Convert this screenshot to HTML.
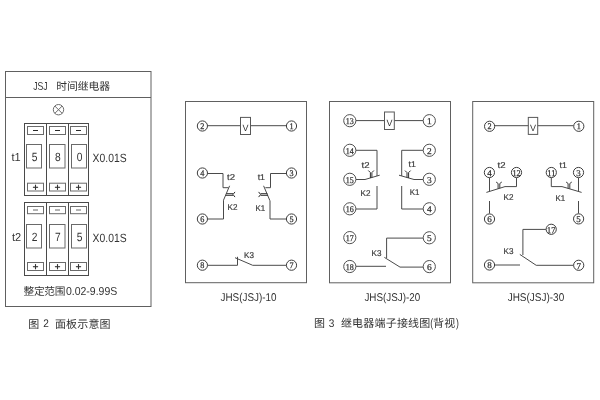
<!DOCTYPE html>
<html lang="zh"><head><meta charset="utf-8"><title>JSJ 时间继电器</title>
<style>
html,body{margin:0;padding:0;background:#fff;width:600px;height:400px;overflow:hidden}
svg{position:absolute;left:0;top:0;display:block;will-change:transform;filter:grayscale(1)}
svg text{font-family:"Liberation Sans",sans-serif;text-rendering:geometricPrecision}
svg text.s{font-family:"Liberation Serif",serif}
svg text.c{font-family:"Liberation Sans","Noto Sans CJK SC",sans-serif}
.h span{position:absolute;color:transparent;font-family:"Liberation Sans","Noto Sans CJK SC",sans-serif;white-space:nowrap;line-height:1}
</style></head><body>
<svg width="600" height="400" viewBox="0 0 600 400">
<rect x="5.5" y="71.5" width="145.50" height="235.00" fill="none" stroke="#606060" stroke-width="1"/>
<path d="M5.5 97.5 L151 97.5" fill="none" stroke="#606060" stroke-width="1"/>
<text x="33.2" y="90.0" font-size="11.5" fill="#333" text-anchor="start" textLength="14.4" lengthAdjust="spacingAndGlyphs">JSJ</text>
<text class="c" x="56.13" y="90.3" font-size="10.8" fill="#333" text-anchor="start">时间继电器</text>
<circle cx="58.5" cy="109.7" r="5.2" fill="#fff" stroke="#6a6a6a" stroke-width="1"/>
<path d="M54.82308 106.02308000000001 L62.17692 113.37692" fill="none" stroke="#6a6a6a" stroke-width="1"/>
<path d="M54.82308 113.37692 L62.17692 106.02308000000001" fill="none" stroke="#6a6a6a" stroke-width="1"/>
<rect x="24.5" y="123.5" width="64.00" height="72.00" fill="none" stroke="#4a4a4a" stroke-width="1"/>
<path d="M46.5 123.5 L46.5 195.5" fill="none" stroke="#4a4a4a" stroke-width="1"/>
<path d="M68.5 123.5 L68.5 195.5" fill="none" stroke="#4a4a4a" stroke-width="1"/>
<rect x="27.5" y="126.5" width="16.00" height="8.00" fill="none" stroke="#6a6a6a" stroke-width="1"/>
<path d="M33.0 130.5 L38.0 130.5" fill="none" stroke="#2a2a2a" stroke-width="1.0"/>
<rect x="27.5" y="183.2" width="16.00" height="7.80" fill="none" stroke="#6a6a6a" stroke-width="1"/>
<path d="M32.9 187.29999999999998 L38.1 187.29999999999998" fill="none" stroke="#333" stroke-width="1.1"/>
<path d="M35.5 184.7 L35.5 189.89999999999998" fill="none" stroke="#333" stroke-width="1.1"/>
<rect x="49.5" y="126.5" width="16.00" height="8.00" fill="none" stroke="#6a6a6a" stroke-width="1"/>
<path d="M55.0 130.5 L60.0 130.5" fill="none" stroke="#2a2a2a" stroke-width="1.0"/>
<rect x="49.5" y="183.2" width="16.00" height="7.80" fill="none" stroke="#6a6a6a" stroke-width="1"/>
<path d="M54.9 187.29999999999998 L60.1 187.29999999999998" fill="none" stroke="#333" stroke-width="1.1"/>
<path d="M57.5 184.7 L57.5 189.89999999999998" fill="none" stroke="#333" stroke-width="1.1"/>
<rect x="70.5" y="126.5" width="16.00" height="8.00" fill="none" stroke="#6a6a6a" stroke-width="1"/>
<path d="M76.0 130.5 L81.0 130.5" fill="none" stroke="#2a2a2a" stroke-width="1.0"/>
<rect x="70.5" y="183.2" width="16.00" height="7.80" fill="none" stroke="#6a6a6a" stroke-width="1"/>
<path d="M75.9 187.29999999999998 L81.1 187.29999999999998" fill="none" stroke="#333" stroke-width="1.1"/>
<path d="M78.5 184.7 L78.5 189.89999999999998" fill="none" stroke="#333" stroke-width="1.1"/>
<rect x="26.5" y="144.5" width="15.00" height="23.50" fill="none" stroke="#6a6a6a" stroke-width="1"/>
<text x="34.7" y="160.8" font-size="12" fill="#333" text-anchor="middle" textLength="5.7" lengthAdjust="spacingAndGlyphs">5</text>
<rect x="49.5" y="144.5" width="15.50" height="23.50" fill="none" stroke="#6a6a6a" stroke-width="1"/>
<text x="57.95" y="160.8" font-size="12" fill="#333" text-anchor="middle" textLength="5.7" lengthAdjust="spacingAndGlyphs">8</text>
<rect x="71.5" y="144.5" width="15.00" height="23.50" fill="none" stroke="#6a6a6a" stroke-width="1"/>
<text x="79.7" y="160.8" font-size="12" fill="#333" text-anchor="middle" textLength="5.7" lengthAdjust="spacingAndGlyphs">0</text>
<text x="11.5" y="160.7" font-size="11.5" fill="#333" text-anchor="start" textLength="9.2" lengthAdjust="spacingAndGlyphs">t1</text>
<text x="92.6" y="161.8" font-size="12" fill="#333" text-anchor="start" textLength="34" lengthAdjust="spacingAndGlyphs">X0.01S</text>
<rect x="24.5" y="202.5" width="64.00" height="73.00" fill="none" stroke="#4a4a4a" stroke-width="1"/>
<path d="M46.5 202.5 L46.5 275.5" fill="none" stroke="#4a4a4a" stroke-width="1"/>
<path d="M68.5 202.5 L68.5 275.5" fill="none" stroke="#4a4a4a" stroke-width="1"/>
<rect x="27.5" y="206.5" width="16.00" height="7.20" fill="none" stroke="#6a6a6a" stroke-width="1"/>
<path d="M33.0 210.0 L38.0 210.0" fill="none" stroke="#666" stroke-width="1.0"/>
<rect x="27.5" y="262.5" width="16.00" height="8.00" fill="none" stroke="#6a6a6a" stroke-width="1"/>
<path d="M32.9 266.7 L38.1 266.7" fill="none" stroke="#333" stroke-width="1.1"/>
<path d="M35.5 264.09999999999997 L35.5 269.3" fill="none" stroke="#333" stroke-width="1.1"/>
<rect x="49.5" y="206.5" width="16.00" height="7.20" fill="none" stroke="#6a6a6a" stroke-width="1"/>
<path d="M55.0 210.0 L60.0 210.0" fill="none" stroke="#666" stroke-width="1.0"/>
<rect x="49.5" y="262.5" width="16.00" height="8.00" fill="none" stroke="#6a6a6a" stroke-width="1"/>
<path d="M54.9 266.7 L60.1 266.7" fill="none" stroke="#333" stroke-width="1.1"/>
<path d="M57.5 264.09999999999997 L57.5 269.3" fill="none" stroke="#333" stroke-width="1.1"/>
<rect x="70.5" y="206.5" width="16.00" height="7.20" fill="none" stroke="#6a6a6a" stroke-width="1"/>
<path d="M76.0 210.0 L81.0 210.0" fill="none" stroke="#666" stroke-width="1.0"/>
<rect x="70.5" y="262.5" width="16.00" height="8.00" fill="none" stroke="#6a6a6a" stroke-width="1"/>
<path d="M75.9 266.7 L81.1 266.7" fill="none" stroke="#333" stroke-width="1.1"/>
<path d="M78.5 264.09999999999997 L78.5 269.3" fill="none" stroke="#333" stroke-width="1.1"/>
<rect x="26.5" y="224.5" width="15.00" height="23.50" fill="none" stroke="#6a6a6a" stroke-width="1"/>
<text x="34.7" y="240.8" font-size="12" fill="#333" text-anchor="middle" textLength="5.7" lengthAdjust="spacingAndGlyphs">2</text>
<rect x="49.5" y="224.5" width="15.50" height="23.50" fill="none" stroke="#6a6a6a" stroke-width="1"/>
<text x="57.95" y="240.8" font-size="12" fill="#333" text-anchor="middle" textLength="5.7" lengthAdjust="spacingAndGlyphs">7</text>
<rect x="71.5" y="224.5" width="15.00" height="23.50" fill="none" stroke="#6a6a6a" stroke-width="1"/>
<text x="79.7" y="240.8" font-size="12" fill="#333" text-anchor="middle" textLength="5.7" lengthAdjust="spacingAndGlyphs">5</text>
<text x="12" y="240.7" font-size="11.5" fill="#333" text-anchor="start" textLength="9.2" lengthAdjust="spacingAndGlyphs">t2</text>
<text x="92.6" y="241.8" font-size="12" fill="#333" text-anchor="start" textLength="34" lengthAdjust="spacingAndGlyphs">X0.01S</text>
<text class="c" x="23.43" y="295.2" font-size="10.7" fill="#333" text-anchor="start" textLength="42.05" lengthAdjust="spacing">整定范围</text>
<text x="65.9" y="295.2" font-size="11.5" fill="#333" text-anchor="start" textLength="51.4" lengthAdjust="spacingAndGlyphs">0.02-9.99S</text>
<text class="c" x="28.28" y="327.6" font-size="11" fill="#333" text-anchor="start">图</text>
<text x="43.2" y="327.4" font-size="11" fill="#333" text-anchor="start" textLength="5.6" lengthAdjust="spacingAndGlyphs">2</text>
<text class="c" x="54.96" y="327.6" font-size="11" fill="#333" text-anchor="start" textLength="55.6" lengthAdjust="spacing">面板示意图</text>
<rect x="185.5" y="101.5" width="121.00" height="181.20" fill="none" stroke="#606060" stroke-width="1"/>
<path d="M207.7 125.7 L240.5 125.7" fill="none" stroke="#4a4a4a" stroke-width="1"/>
<path d="M250.5 125.7 L286.2 125.7" fill="none" stroke="#4a4a4a" stroke-width="1"/>
<rect x="240.5" y="117.4" width="10.00" height="17.10" fill="none" stroke="#585858" stroke-width="1"/>
<text x="245.6" y="131" font-size="9" fill="#333" text-anchor="middle">V</text>
<circle cx="202.4" cy="126" r="5.1" fill="#fff" stroke="#3c3c3c" stroke-width="1.0"/>
<text x="200.35" y="129.05" font-size="8.6" fill="#333" text-anchor="start" textLength="4.1" lengthAdjust="spacingAndGlyphs" class="s" stroke="#333" stroke-width="0.25">2</text>
<circle cx="291.5" cy="126" r="5.1" fill="#fff" stroke="#3c3c3c" stroke-width="1.0"/>
<text x="289.45" y="129.05" font-size="8.6" fill="#333" text-anchor="start" textLength="4.1" lengthAdjust="spacingAndGlyphs" class="s" stroke="#333" stroke-width="0.25">1</text>
<path d="M207.5 173.5 L223.0 173.5 L223.0 187.7 L228.3 187.7" fill="none" stroke="#4a4a4a" stroke-width="1"/>
<path d="M229.6 185.8 L223.5 200.2 L223.5 219 L207.7 219" fill="none" stroke="#4a4a4a" stroke-width="1"/>
<path d="M226.3 193.7 L233 193.7" fill="none" stroke="#2e2e2e" stroke-width="1.0"/>
<path d="M225.7 195.3 L233 195.3" fill="none" stroke="#2e2e2e" stroke-width="1.0"/>
<path d="M235.0 191.9 L233 194.5 L235.0 197.1" fill="none" stroke="#2e2e2e" stroke-width="1.0"/>
<circle cx="202.4" cy="173" r="5.1" fill="#fff" stroke="#3c3c3c" stroke-width="1.0"/>
<text x="200.35" y="176.05" font-size="8.6" fill="#333" text-anchor="start" textLength="4.1" lengthAdjust="spacingAndGlyphs" class="s" stroke="#333" stroke-width="0.25">4</text>
<circle cx="202.4" cy="219" r="5.1" fill="#fff" stroke="#3c3c3c" stroke-width="1.0"/>
<text x="200.35" y="222.05" font-size="8.6" fill="#333" text-anchor="start" textLength="4.1" lengthAdjust="spacingAndGlyphs" class="s" stroke="#333" stroke-width="0.25">6</text>
<text x="227.0" y="180.1" font-size="8.4" fill="#3a3a3a" text-anchor="start" textLength="8.0" lengthAdjust="spacingAndGlyphs" stroke="#3a3a3a" stroke-width="0.2">t2</text>
<text x="227.5" y="209.7" font-size="8.4" fill="#3a3a3a" text-anchor="start" textLength="9.9" lengthAdjust="spacingAndGlyphs" stroke="#3a3a3a" stroke-width="0.2">K2</text>
<path d="M286.4 173.5 L270.5 173.5 L270.5 187.7 L265.4 187.7" fill="none" stroke="#4a4a4a" stroke-width="1"/>
<path d="M263.6 185.8 L269.8 200.4 L270.0 201 L270.0 219 L286.4 219" fill="none" stroke="#4a4a4a" stroke-width="1"/>
<path d="M260.6 193.7 L267.4 193.7" fill="none" stroke="#2e2e2e" stroke-width="1.0"/>
<path d="M260.6 195.3 L268 195.3" fill="none" stroke="#2e2e2e" stroke-width="1.0"/>
<path d="M258.6 191.9 L260.6 194.5 L258.6 197.1" fill="none" stroke="#2e2e2e" stroke-width="1.0"/>
<circle cx="291.5" cy="173" r="5.1" fill="#fff" stroke="#3c3c3c" stroke-width="1.0"/>
<text x="289.45" y="176.05" font-size="8.6" fill="#333" text-anchor="start" textLength="4.1" lengthAdjust="spacingAndGlyphs" class="s" stroke="#333" stroke-width="0.25">3</text>
<circle cx="291.5" cy="219" r="5.1" fill="#fff" stroke="#3c3c3c" stroke-width="1.0"/>
<text x="289.45" y="222.05" font-size="8.6" fill="#333" text-anchor="start" textLength="4.1" lengthAdjust="spacingAndGlyphs" class="s" stroke="#333" stroke-width="0.25">5</text>
<text x="257.7" y="179.5" font-size="8.4" fill="#3a3a3a" text-anchor="start" textLength="7.3" lengthAdjust="spacingAndGlyphs" stroke="#3a3a3a" stroke-width="0.2">t1</text>
<text x="255.5" y="210.5" font-size="8.4" fill="#3a3a3a" text-anchor="start" textLength="9.7" lengthAdjust="spacingAndGlyphs" stroke="#3a3a3a" stroke-width="0.2">K1</text>
<path d="M207.7 265.3 L237.5 265.3 L237.5 256.8" fill="none" stroke="#4a4a4a" stroke-width="1"/>
<path d="M235 257.7 L252.7 265.3 L286.2 265.3" fill="none" stroke="#4a4a4a" stroke-width="1"/>
<circle cx="202.4" cy="265.2" r="5.1" fill="#fff" stroke="#3c3c3c" stroke-width="1.0"/>
<text x="200.35" y="268.25" font-size="8.6" fill="#333" text-anchor="start" textLength="4.1" lengthAdjust="spacingAndGlyphs" class="s" stroke="#333" stroke-width="0.25">8</text>
<circle cx="291.5" cy="265.2" r="5.1" fill="#fff" stroke="#3c3c3c" stroke-width="1.0"/>
<text x="289.45" y="268.25" font-size="8.6" fill="#333" text-anchor="start" textLength="4.1" lengthAdjust="spacingAndGlyphs" class="s" stroke="#333" stroke-width="0.25">7</text>
<text x="244.0" y="258.0" font-size="8.4" fill="#3a3a3a" text-anchor="start" textLength="9.9" lengthAdjust="spacingAndGlyphs" stroke="#3a3a3a" stroke-width="0.2">K3</text>
<text x="220.5" y="300.7" font-size="11.3" fill="#333" text-anchor="start" textLength="56" lengthAdjust="spacingAndGlyphs">JHS(JSJ)-10</text>
<rect x="329.5" y="101.5" width="121.00" height="181.30" fill="none" stroke="#606060" stroke-width="1"/>
<path d="M356 120.6 L384.5 120.6" fill="none" stroke="#4a4a4a" stroke-width="1"/>
<path d="M394.3 120.6 L423 120.6" fill="none" stroke="#4a4a4a" stroke-width="1"/>
<rect x="384.5" y="112" width="9.80" height="17.50" fill="none" stroke="#585858" stroke-width="1"/>
<text x="389.5" y="125.8" font-size="9" fill="#333" text-anchor="middle">V</text>
<circle cx="349.8" cy="120.7" r="6.1" fill="#fff" stroke="#505050" stroke-width="1.0"/>
<text x="345.8" y="124.05" font-size="8.9" fill="#333" text-anchor="start" textLength="8.0" lengthAdjust="spacingAndGlyphs" class="s" stroke="#333" stroke-width="0.25">13</text>
<circle cx="429.3" cy="120.7" r="6.1" fill="#fff" stroke="#505050" stroke-width="1.0"/>
<text x="426.95" y="124.2" font-size="8.9" fill="#333" text-anchor="start" textLength="4.7" lengthAdjust="spacingAndGlyphs" class="s" stroke="#333" stroke-width="0.25">1</text>
<path d="M356 150.3 L377 150.3 L377 176" fill="none" stroke="#4a4a4a" stroke-width="1"/>
<path d="M356 179.5 L365 179.5 L379.7 175.2" fill="none" stroke="#4a4a4a" stroke-width="1"/>
<path d="M377 186 L377 209 L356 209" fill="none" stroke="#4a4a4a" stroke-width="1"/>
<path d="M368.3 170.5 L370.4 172.6 L370.4 178" fill="none" stroke="#2e2e2e" stroke-width="1.0"/>
<path d="M373.9 170.5 L371.9 172.6 L371.9 177.6" fill="none" stroke="#2e2e2e" stroke-width="1.0"/>
<circle cx="349.8" cy="150.3" r="6.1" fill="#fff" stroke="#505050" stroke-width="1.0"/>
<text x="345.8" y="153.65" font-size="8.9" fill="#333" text-anchor="start" textLength="8.0" lengthAdjust="spacingAndGlyphs" class="s" stroke="#333" stroke-width="0.25">14</text>
<circle cx="349.8" cy="179.3" r="6.1" fill="#fff" stroke="#505050" stroke-width="1.0"/>
<text x="345.8" y="182.65" font-size="8.9" fill="#333" text-anchor="start" textLength="8.0" lengthAdjust="spacingAndGlyphs" class="s" stroke="#333" stroke-width="0.25">15</text>
<circle cx="349.8" cy="208.8" r="6.1" fill="#fff" stroke="#505050" stroke-width="1.0"/>
<text x="345.8" y="212.15" font-size="8.9" fill="#333" text-anchor="start" textLength="8.0" lengthAdjust="spacingAndGlyphs" class="s" stroke="#333" stroke-width="0.25">16</text>
<text x="361.5" y="168.0" font-size="8.4" fill="#3a3a3a" text-anchor="start" textLength="8.0" lengthAdjust="spacingAndGlyphs" stroke="#3a3a3a" stroke-width="0.2">t2</text>
<text x="360.5" y="196.0" font-size="8.4" fill="#3a3a3a" text-anchor="start" textLength="9.9" lengthAdjust="spacingAndGlyphs" stroke="#3a3a3a" stroke-width="0.2">K2</text>
<path d="M423 150.3 L401.7 150.3 L401.7 176" fill="none" stroke="#4a4a4a" stroke-width="1"/>
<path d="M423 179.5 L414 179.5 L399 175.2" fill="none" stroke="#4a4a4a" stroke-width="1"/>
<path d="M401.7 186 L401.7 209 L423 209" fill="none" stroke="#4a4a4a" stroke-width="1"/>
<path d="M405 170.6 L407 172.6 L407 177.6" fill="none" stroke="#2e2e2e" stroke-width="1.0"/>
<path d="M410.6 170.6 L408.6 172.6 L408.6 178" fill="none" stroke="#2e2e2e" stroke-width="1.0"/>
<circle cx="429.3" cy="150.3" r="6.1" fill="#fff" stroke="#505050" stroke-width="1.0"/>
<text x="426.95" y="153.8" font-size="8.9" fill="#333" text-anchor="start" textLength="4.7" lengthAdjust="spacingAndGlyphs" class="s" stroke="#333" stroke-width="0.25">2</text>
<circle cx="429.3" cy="179.3" r="6.1" fill="#fff" stroke="#505050" stroke-width="1.0"/>
<text x="426.95" y="182.8" font-size="8.9" fill="#333" text-anchor="start" textLength="4.7" lengthAdjust="spacingAndGlyphs" class="s" stroke="#333" stroke-width="0.25">3</text>
<circle cx="429.3" cy="208.8" r="6.1" fill="#fff" stroke="#505050" stroke-width="1.0"/>
<text x="426.95" y="212.3" font-size="8.9" fill="#333" text-anchor="start" textLength="4.7" lengthAdjust="spacingAndGlyphs" class="s" stroke="#333" stroke-width="0.25">4</text>
<text x="408.5" y="167.0" font-size="8.4" fill="#3a3a3a" text-anchor="start" textLength="7.3" lengthAdjust="spacingAndGlyphs" stroke="#3a3a3a" stroke-width="0.2">t1</text>
<text x="409.7" y="195.2" font-size="8.4" fill="#3a3a3a" text-anchor="start" textLength="9.7" lengthAdjust="spacingAndGlyphs" stroke="#3a3a3a" stroke-width="0.2">K1</text>
<circle cx="349.8" cy="237.6" r="6.1" fill="#fff" stroke="#505050" stroke-width="1.0"/>
<text x="345.8" y="240.95" font-size="8.9" fill="#333" text-anchor="start" textLength="8.0" lengthAdjust="spacingAndGlyphs" class="s" stroke="#333" stroke-width="0.25">17</text>
<circle cx="349.8" cy="266.5" r="6.1" fill="#fff" stroke="#505050" stroke-width="1.0"/>
<text x="345.8" y="269.85" font-size="8.9" fill="#333" text-anchor="start" textLength="8.0" lengthAdjust="spacingAndGlyphs" class="s" stroke="#333" stroke-width="0.25">18</text>
<path d="M356 266.3 L386 266.3" fill="none" stroke="#4a4a4a" stroke-width="1"/>
<path d="M423 238.1 L386.6 238.1 L386.6 258" fill="none" stroke="#4a4a4a" stroke-width="1"/>
<path d="M384.4 257.4 L400 267.1 L423 267.1" fill="none" stroke="#4a4a4a" stroke-width="1"/>
<circle cx="429.3" cy="237.8" r="6.1" fill="#fff" stroke="#505050" stroke-width="1.0"/>
<text x="426.95" y="241.3" font-size="8.9" fill="#333" text-anchor="start" textLength="4.7" lengthAdjust="spacingAndGlyphs" class="s" stroke="#333" stroke-width="0.25">5</text>
<circle cx="429.3" cy="266.6" r="6.1" fill="#fff" stroke="#505050" stroke-width="1.0"/>
<text x="426.95" y="270.1" font-size="8.9" fill="#333" text-anchor="start" textLength="4.7" lengthAdjust="spacingAndGlyphs" class="s" stroke="#333" stroke-width="0.25">6</text>
<text x="371.5" y="255.6" font-size="8.4" fill="#3a3a3a" text-anchor="start" textLength="9.9" lengthAdjust="spacingAndGlyphs" stroke="#3a3a3a" stroke-width="0.2">K3</text>
<text x="364.4" y="300.8" font-size="11.3" fill="#333" text-anchor="start" textLength="55.8" lengthAdjust="spacingAndGlyphs">JHS(JSJ)-20</text>
<text class="c" x="314.08" y="327.2" font-size="11" fill="#333" text-anchor="start">图</text>
<text x="328.8" y="327" font-size="11" fill="#333" text-anchor="start" textLength="5.6" lengthAdjust="spacingAndGlyphs">3</text>
<text class="c" x="340.9" y="327.2" font-size="11" fill="#333" text-anchor="start" textLength="89.4" lengthAdjust="spacing">继电器端子接线图</text>
<text x="430.2" y="327" font-size="12" fill="#333" text-anchor="start" textLength="2.9" lengthAdjust="spacingAndGlyphs">(</text>
<text class="c" x="433.11" y="327.2" font-size="11" fill="#333" text-anchor="start" textLength="22.2" lengthAdjust="spacing">背视</text>
<text x="455.9" y="327" font-size="12" fill="#333" text-anchor="start" textLength="2.9" lengthAdjust="spacingAndGlyphs">)</text>
<rect x="472.7" y="101.5" width="121.00" height="181.30" fill="none" stroke="#606060" stroke-width="1"/>
<path d="M494.8 125.7 L528.3 125.7" fill="none" stroke="#4a4a4a" stroke-width="1"/>
<path d="M537.7 125.7 L573.4 125.7" fill="none" stroke="#4a4a4a" stroke-width="1"/>
<rect x="528.3" y="117.4" width="9.40" height="17.00" fill="none" stroke="#585858" stroke-width="1"/>
<text x="533" y="131" font-size="9" fill="#333" text-anchor="middle">V</text>
<circle cx="489.6" cy="126.3" r="5.1" fill="#fff" stroke="#3c3c3c" stroke-width="1.0"/>
<text x="487.55" y="129.35" font-size="8.6" fill="#333" text-anchor="start" textLength="4.1" lengthAdjust="spacingAndGlyphs" class="s" stroke="#333" stroke-width="0.25">2</text>
<circle cx="578.8" cy="126.3" r="5.1" fill="#fff" stroke="#3c3c3c" stroke-width="1.0"/>
<text x="576.75" y="129.35" font-size="8.6" fill="#333" text-anchor="start" textLength="4.1" lengthAdjust="spacingAndGlyphs" class="s" stroke="#333" stroke-width="0.25">1</text>
<circle cx="489.4" cy="172.5" r="5.1" fill="#fff" stroke="#3c3c3c" stroke-width="1.0"/>
<text x="487.15" y="175.7" font-size="8.9" fill="#333" text-anchor="start" textLength="4.5" lengthAdjust="spacingAndGlyphs" class="s" stroke="#333" stroke-width="0.25">4</text>
<circle cx="516.5" cy="172.5" r="5.1" fill="#fff" stroke="#3c3c3c" stroke-width="1.0"/>
<text x="512.4" y="175.7" font-size="8.9" fill="#333" text-anchor="start" textLength="8.2" lengthAdjust="spacingAndGlyphs" class="s" stroke="#333" stroke-width="0.25">12</text>
<path d="M489.5 177.8 L489.5 191.3" fill="none" stroke="#4a4a4a" stroke-width="1"/>
<path d="M486.4 192.4 L505 186.6 L516.5 186.6 L516.5 177.8" fill="none" stroke="#4a4a4a" stroke-width="1"/>
<path d="M496.1 182.0 L498.1 183.5 L498.1 188.7" fill="none" stroke="#2e2e2e" stroke-width="0.95"/>
<path d="M501.8 182.0 L499.8 183.5 L499.8 188.3" fill="none" stroke="#2e2e2e" stroke-width="0.95"/>
<path d="M489.5 201 L489.5 213.5" fill="none" stroke="#4a4a4a" stroke-width="1"/>
<circle cx="489.5" cy="219.0" r="5.1" fill="#fff" stroke="#3c3c3c" stroke-width="1.0"/>
<text x="487.25" y="222.2" font-size="8.9" fill="#333" text-anchor="start" textLength="4.5" lengthAdjust="spacingAndGlyphs" class="s" stroke="#333" stroke-width="0.25">6</text>
<text x="497.5" y="167.5" font-size="8.4" fill="#3a3a3a" text-anchor="start" textLength="8.0" lengthAdjust="spacingAndGlyphs" stroke="#3a3a3a" stroke-width="0.2">t2</text>
<text x="503.5" y="199.5" font-size="8.4" fill="#3a3a3a" text-anchor="start" textLength="9.9" lengthAdjust="spacingAndGlyphs" stroke="#3a3a3a" stroke-width="0.2">K2</text>
<circle cx="551.3" cy="172.5" r="5.1" fill="#fff" stroke="#3c3c3c" stroke-width="1.0"/>
<text x="547.1999999999999" y="175.7" font-size="8.9" fill="#333" text-anchor="start" textLength="8.2" lengthAdjust="spacingAndGlyphs" class="s" stroke="#333" stroke-width="0.25">11</text>
<circle cx="578.5" cy="172.5" r="5.1" fill="#fff" stroke="#3c3c3c" stroke-width="1.0"/>
<text x="576.25" y="175.7" font-size="8.9" fill="#333" text-anchor="start" textLength="4.5" lengthAdjust="spacingAndGlyphs" class="s" stroke="#333" stroke-width="0.25">3</text>
<path d="M578.5 177.8 L578.5 191.3" fill="none" stroke="#4a4a4a" stroke-width="1"/>
<path d="M581.6 192.4 L562 186.6 L551.3 186.6 L551.3 177.8" fill="none" stroke="#4a4a4a" stroke-width="1"/>
<path d="M566.1 182.0 L568.1 183.5 L568.1 188.3" fill="none" stroke="#2e2e2e" stroke-width="0.95"/>
<path d="M571.8 182.0 L569.8 183.5 L569.8 188.7" fill="none" stroke="#2e2e2e" stroke-width="0.95"/>
<path d="M578.5 201 L578.5 213.5" fill="none" stroke="#4a4a4a" stroke-width="1"/>
<circle cx="578.6" cy="218.9" r="5.1" fill="#fff" stroke="#3c3c3c" stroke-width="1.0"/>
<text x="576.35" y="222.1" font-size="8.9" fill="#333" text-anchor="start" textLength="4.5" lengthAdjust="spacingAndGlyphs" class="s" stroke="#333" stroke-width="0.25">5</text>
<text x="559.5" y="167.5" font-size="8.4" fill="#3a3a3a" text-anchor="start" textLength="7.3" lengthAdjust="spacingAndGlyphs" stroke="#3a3a3a" stroke-width="0.2">t1</text>
<text x="555.5" y="200.5" font-size="8.4" fill="#3a3a3a" text-anchor="start" textLength="9.7" lengthAdjust="spacingAndGlyphs" stroke="#3a3a3a" stroke-width="0.2">K1</text>
<path d="M545.9 229.4 L522.9 229.4 L522.9 255" fill="none" stroke="#4a4a4a" stroke-width="1"/>
<path d="M519.8 254.4 L536.2 265.3 L573.4 265.3" fill="none" stroke="#4a4a4a" stroke-width="1"/>
<path d="M494.8 265 L520 265" fill="none" stroke="#4a4a4a" stroke-width="1"/>
<circle cx="551.2" cy="229.3" r="5.1" fill="#fff" stroke="#3c3c3c" stroke-width="1.0"/>
<text x="547.1" y="232.5" font-size="8.9" fill="#333" text-anchor="start" textLength="8.2" lengthAdjust="spacingAndGlyphs" class="s" stroke="#333" stroke-width="0.25">17</text>
<circle cx="489.5" cy="265" r="5.1" fill="#fff" stroke="#3c3c3c" stroke-width="1.0"/>
<text x="487.25" y="268.2" font-size="8.9" fill="#333" text-anchor="start" textLength="4.5" lengthAdjust="spacingAndGlyphs" class="s" stroke="#333" stroke-width="0.25">8</text>
<circle cx="578.7" cy="265.3" r="5.1" fill="#fff" stroke="#3c3c3c" stroke-width="1.0"/>
<text x="576.45" y="268.5" font-size="8.9" fill="#333" text-anchor="start" textLength="4.5" lengthAdjust="spacingAndGlyphs" class="s" stroke="#333" stroke-width="0.25">7</text>
<text x="503.5" y="254.1" font-size="8.4" fill="#3a3a3a" text-anchor="start" textLength="9.9" lengthAdjust="spacingAndGlyphs" stroke="#3a3a3a" stroke-width="0.2">K3</text>
<text x="507.7" y="300.7" font-size="11.3" fill="#333" text-anchor="start" textLength="56.5" lengthAdjust="spacingAndGlyphs">JHS(JSJ)-30</text>
</svg>
<div class="h"><span style="left:56.1px;top:79.5px;font-size:10.8px">时间继电器</span><span style="left:23.4px;top:284.5px;font-size:10.7px">整定范围</span><span style="left:28.3px;top:316.6px;font-size:11px">图</span><span style="left:55.0px;top:316.6px;font-size:11px">面板示意图</span><span style="left:314.1px;top:316.2px;font-size:11px">图</span><span style="left:340.9px;top:316.2px;font-size:11px">继电器端子接线图</span><span style="left:433.1px;top:316.2px;font-size:11px">背视</span></div>
</body></html>
